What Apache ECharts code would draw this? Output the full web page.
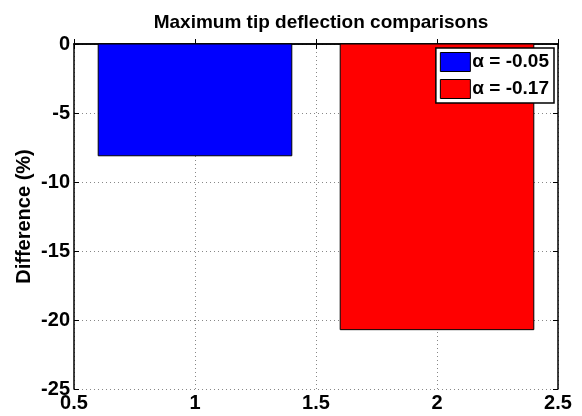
<!DOCTYPE html>
<html><head><meta charset="utf-8">
<script src="https://cdn.jsdelivr.net/npm/echarts@6/dist/echarts.min.js"></script>
<style>html,body{margin:0;padding:0;background:#fff}#c{width:582px;height:416px}</style>
</head><body><div id="c"></div>
<script>
const seriesNames = ['α = -0.05', 'α = -0.17'];
const barX = [1, 2];
const barValues = [-8.1, -20.7];
const barColors = ['#0000FF', '#FF0000'];
const barHalfWidth = 0.4;
const xTicks = [0.5, 1, 1.5, 2, 2.5];
const yTicks = [-25, -20, -15, -10, -5, 0];

const font = 'Liberation Sans, Arial, sans-serif';
const chart = echarts.init(document.getElementById('c'));

function renderBar(params, api) {
  const x = api.value(0), v = api.value(1);
  const p0 = api.coord([x - barHalfWidth, 0]);
  const p1 = api.coord([x + barHalfWidth, v]);
  return {
    type: 'rect',
    shape: { x: p0[0], y: p0[1], width: p1[0] - p0[0], height: p1[1] - p0[1] },
    style: { fill: api.visual('color'), stroke: '#000', lineWidth: 1 }
  };
}

const axisCommon = {
  axisLine: { show: true, lineStyle: { color: '#000', width: 1.5 } },
  axisTick: { show: true, inside: true, length: 5, lineStyle: { color: '#000' } }
};

chart.setOption({
  animation: false,
  title: {
    text: 'Maximum tip deflection comparisons',
    left: 316, top: 8, textAlign: 'center',
    textStyle: { fontFamily: font, fontWeight: 'bold', fontSize: 19, color: '#000' }
  },
  legend: {
    data: seriesNames,
    orient: 'vertical',
    right: 28, top: 48,
    icon: 'rect',
    itemWidth: 30, itemHeight: 19, itemGap: 7,
    padding: [4, 5, 4, 4],
    borderColor: '#000', borderWidth: 1.5, backgroundColor: '#fff',
    textStyle: { fontFamily: font, fontWeight: 'bold', fontSize: 19, color: '#000', padding: [0, 0, 0, -3] },
    itemStyle: { borderColor: '#000', borderWidth: 1 }
  },
  grid: { left: 74, right: 24, top: 44, bottom: 27, show: false },
  xAxis: [
    Object.assign({
      type: 'value', min: xTicks[0], max: xTicks[xTicks.length - 1], interval: 0.5,
      position: 'bottom',
      axisLabel: { fontFamily: font, fontWeight: 'bold', fontSize: 20, color: '#000', margin: 4,
        formatter: v => String(v) },
      splitLine: { show: true, lineStyle: { color: '#888', type: [1, 3], width: 1 } }
    }, axisCommon),
    Object.assign({
      type: 'value', min: xTicks[0], max: xTicks[xTicks.length - 1], interval: 0.5,
      position: 'top', axisLabel: { show: false }, splitLine: { show: false }
    }, axisCommon)
  ],
  yAxis: [
    Object.assign({
      type: 'value', min: yTicks[0], max: yTicks[yTicks.length - 1], interval: 5,
      position: 'left',
      name: 'Difference (%)', nameLocation: 'middle', nameGap: 40, nameRotate: 90,
      nameMoveOverlap: false,
      nameTextStyle: { fontFamily: font, fontWeight: 'bold', fontSize: 20, color: '#000' },
      axisLabel: { fontFamily: font, fontWeight: 'bold', fontSize: 20, color: '#000', margin: 4 },
      splitLine: { show: true, lineStyle: { color: '#888', type: [1, 3], width: 1 } }
    }, axisCommon),
    Object.assign({
      type: 'value', min: yTicks[0], max: yTicks[yTicks.length - 1], interval: 5,
      position: 'right', axisLabel: { show: false }, splitLine: { show: false }
    }, axisCommon)
  ],
  series: seriesNames.map((name, i) => ({
    name: name,
    type: 'custom',
    renderItem: renderBar,
    itemStyle: { color: barColors[i] },
    encode: { x: 0, y: 1 },
    data: [[barX[i], barValues[i]]],
    z: 2
  }))
});
</script>
</body></html>
